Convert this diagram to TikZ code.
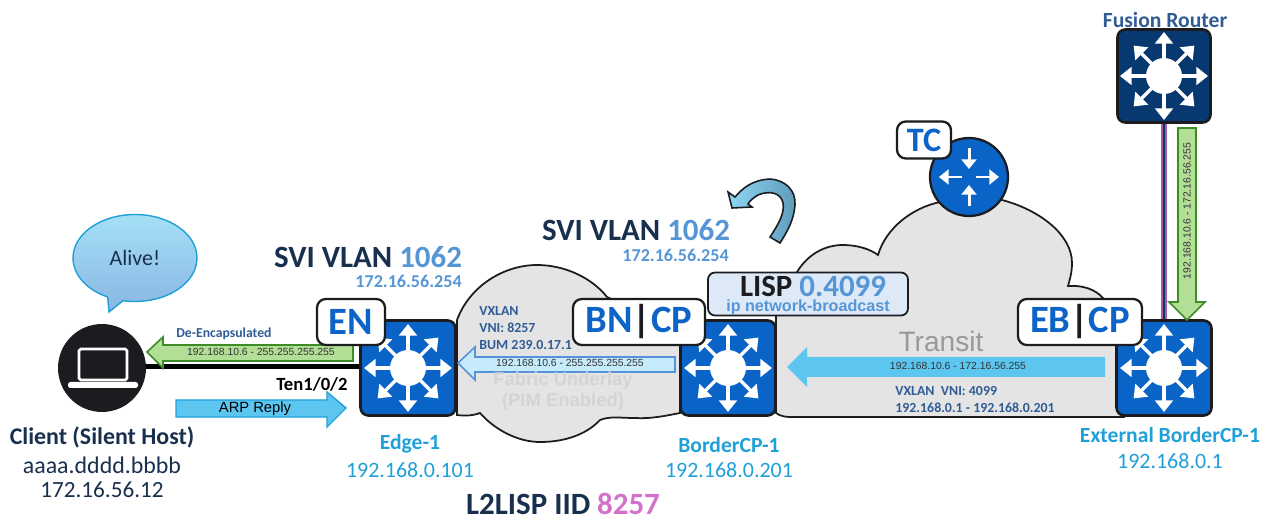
\documentclass[tikz,border=0pt]{standalone}
\usepackage{fontspec}
\setmainfont{Carlito}
\newfontfamily\arialfont{Liberation Sans}
\usepackage{xcolor}
\usetikzlibrary{arrows.meta,positioning,shapes.callouts,shapes.geometric}
\definecolor{ink}{RGB}{28,28,32}
\definecolor{cNavy}{RGB}{24,48,78}
\definecolor{cTag}{RGB}{12,100,200}
\definecolor{cSw}{RGB}{10,100,200}
\definecolor{cFus}{RGB}{8,56,112}
\definecolor{cCyan}{RGB}{32,160,216}
\definecolor{cVlan}{RGB}{86,150,214}
\definecolor{cPink}{RGB}{212,112,204}
\definecolor{cCloud}{RGB}{228,228,228}
\definecolor{cLbl}{RGB}{48,92,150}
\definecolor{cGreen}{RGB}{178,222,150}
\definecolor{cGreenD}{RGB}{62,140,40}
\definecolor{cSky}{RGB}{92,198,240}
\definecolor{cSteel}{RGB}{95,155,185}
\tikzset{
  swnode/.style={draw=ink,line width=1.5pt,rounded corners=4.5pt,fill=#1,inner sep=0pt,
    minimum size=1.9cm,path picture={
      \fill[white] (path picture bounding box.center) circle (18);
      \foreach \a/\l in {0/44,90/44,180/44,270/44,45/43,135/43,225/43,315/43}
        \draw[white,line width=1.9pt,-{Triangle[length=6.6pt,width=10pt]}]
          (path picture bounding box.center) -- ++(\a:\l);}},
  tagbox/.style={draw=ink,line width=1.3pt,rounded corners=5pt,fill=white,inner sep=0pt,
    text=cTag,font=\fontsize{22}{23}\selectfont\bfseries},
  cloudshape/.style={draw=ink,line width=1pt,fill=cCloud},
  greenarrow/.style={draw=cGreenD,line width=.9pt,fill=cGreen},
  skyarrow/.style={draw=cCyan,line width=.8pt,fill=cSky},
  tinytext/.style={font=\arialfont\fontsize{5.9}{7}\selectfont,text=black!80,inner sep=0pt},
  lbl/.style={font=\fontsize{#1}{#1}\selectfont\bfseries,inner sep=0pt,text=cLbl},
  caption/.style={font=\fontsize{12.3}{13}\selectfont\bfseries,inner sep=0pt,text=cCyan},
  addr/.style={font=\fontsize{12.5}{13}\selectfont,inner sep=0pt,text=cCyan},
  head/.style={font=\fontsize{17.6}{18}\selectfont\bfseries,inner sep=0pt,text=cNavy},
  vlanip/.style={font=\fontsize{10.3}{11}\selectfont\bfseries,inner sep=0pt,text=cVlan},
}
\newcommand{\vlan}[1]{\textcolor{cVlan}{#1}}
\newcommand{\tagbar}{\textcolor{ink}{\textbf{|}}}

\begin{document}
\begin{tikzpicture}[x=0.02cm,y=-0.02cm]
  \useasboundingbox (0,0) rectangle (1272,520);
  % clouds
  \path[cloudshape] (457,320) .. controls (470,285) and (505,265) .. (537,265)
     .. controls (565,265) and (592,278) .. (607,297) -- (680,330) -- (680,413)
     .. controls (665,416) and (650,419) .. (635,418)
     .. controls (620,418) and (610,416) .. (600,420)
     .. controls (585,436) and (562,442) .. (540,442)
     .. controls (518,442) and (495,430) .. (480,413)
     .. controls (472,416) and (465,416) .. (457,415) -- cycle;
  \path[cloudshape] (797,272) .. controls (808,254) and (825,245) .. (843,245)
     .. controls (857,245) and (870,249) .. (878,255)
     .. controls (886,228) and (912,208) .. (940,202) -- (1002,200)
     .. controls (1040,210) and (1072,235) .. (1072,263)
     .. controls (1072,272) and (1070,279) .. (1068,286)
     .. controls (1082,285) and (1095,289) .. (1103,298) -- (1120,330) -- (1124,417)
     -- (790,417) .. controls (785,417) and (780,416) .. (776,413) -- (776,300) -- cycle;
  % devices
  \node[circle,fill=ink,minimum size=1.76cm,inner sep=0pt] (client) at (102,368) {};
  \node[swnode=cSw] (edge) at (408,368) {};
  \node[swnode=cSw] (bcp) at (728,368) {};
  \node[swnode=cSw] (ext) at (1164,368) {};
  \node[swnode=cFus,minimum size=1.86cm] (fusion) at (1164,76) {};
  \node[circle,draw=ink,line width=1.3pt,fill=cSw,minimum size=1.56cm,inner sep=0pt] (tc) at (969,177) {};
  \foreach \a/\p/\q in {0/7/30,180/7/30,90/29/8,270/29/8}
    \draw[white,line width=1.7pt,-{Triangle[length=5.5pt,width=8.5pt]}]
      (tc.center) ++(\a:\p) -- ++(\a:\q-\p);
  % laptop
  \draw[white,line width=1.5pt,rounded corners=1pt,fill=ink] (79,349) rectangle (127,380);
  \fill[white,rounded corners=1pt] (68,382) rectangle (138,388);
  % links
  \draw[black,line width=2.8pt] ([yshift=1pt]client.east) -- ([yshift=1pt]edge.west);
  \draw[cPink!80!black,line width=3.4pt] (fusion.south) -- (fusion.south |- ext.north);
  \draw[cFus,line width=1.4pt] (fusion.south) -- (fusion.south |- ext.north);
  % fat arrows
  \path[greenarrow] (147,352) -- (163,337) -- (163,345) -- (353,345) -- (353,361) -- (163,361) -- (163,368) -- cycle;
  \node[tinytext] (decaptxt) at (261,352) {192.168.10.6 - 255.255.255.255};
  \node[lbl=7.8,anchor=west] (decaplbl) at (176,334) {De-Encapsulated};
  \path[skyarrow] (346,408) -- (327,392) -- (327,400) -- (176,400) -- (176,417) -- (327,417) -- (327,427) -- cycle;
  \node[font=\arialfont\fontsize{8.4}{9}\selectfont,inner sep=0pt] (arptxt) at (255,409) {ARP Reply};
  \node[font=\fontsize{10.6}{11}\selectfont\bfseries,inner sep=0pt,anchor=east] (port) at (348,384) {Ten1/0/2};
  \path[draw=cTag!70,line width=.9pt,fill=cSky!35] (458,363) -- (475,347) -- (475,357) -- (675,357) -- (675,372) -- (475,372) -- (475,380) -- cycle;
  \node[tinytext] (bumtxt) at (570,363) {192.168.10.6 - 255.255.255.255};
  \path[fill=cSky] (787,367) -- (807,347) -- (807,357) -- (1105,357) -- (1105,377) -- (807,377) -- (807,387) -- cycle;
  \node[tinytext] (trantxt) at (958,366) {192.168.10.6 - 172.16.56.255};
  \path[greenarrow] (1187,320) -- (1169,302) -- (1178,302) -- (1178,128) -- (1196,128) -- (1196,302) -- (1205,302) -- cycle;
  \node[tinytext,rotate=90] (fustxt) at (1187,211) {192.168.10.6 - 172.16.56.255};
  % tags
  \node[tagbox,minimum width=1.36cm,minimum height=.92cm] (en) at (351,322) {EN};
  \node[tagbox,minimum width=2.64cm,minimum height=.92cm] (bn) at (639,322) {BN\tagbar CP};
  \node[tagbox,minimum width=2.48cm,minimum height=.92cm] (eb) at (1080,322) {EB\tagbar CP};
  \node[tagbox,font=\fontsize{19.5}{20}\selectfont\bfseries,minimum width=1.08cm,minimum height=.74cm] (tctag) at (924,140) {TC};
  \node[draw=ink,line width=1pt,rounded corners=4pt,fill=cTag!14,minimum width=4cm,
    minimum height=.86cm,inner sep=0pt,align=center] (lispbox) at (808,294)
    {\rule{0pt}{13.3pt}\hspace*{5.7pt}{\fontsize{17.6}{10}\selectfont\bfseries\textcolor{ink}{LISP} \vlan{0.4099}}\\[-3.6pt]
     {\arialfont\fontsize{9.2}{6}\selectfont\bfseries\vlan{ip network-broadcast}}};
  % cloud texts
  \node[align=left,anchor=north west,inner sep=0pt,text=cLbl,font=\fontsize{7.9}{9.7}\selectfont\bfseries] (vxlan) at (479,306)
     {VXLAN\\VNI: 8257\\BUM 239.0.17.1};
  \node[font=\arialfont\fontsize{10.5}{12}\selectfont\bfseries,text=black!17,align=center,inner sep=0pt] (under) at (563,391)
     {Fabric Underlay\\(PIM Enabled)};
  \node[font=\arialfont\fontsize{16}{17}\selectfont,text=black!40,inner sep=0pt] (transit) at (941,341) {Transit};
  \node[align=left,anchor=north west,inner sep=0pt,text=cLbl,font=\fontsize{7.9}{9.7}\selectfont\bfseries] (vni) at (895,386)
     {VXLAN\ \ VNI: 4099\\192.168.0.1 - 192.168.0.201};
  % callout
  \node[ellipse callout,callout absolute pointer={(109,312)},draw=cCyan,line width=.8pt,
    top color=cSky!55!white,bottom color=cVlan!70!white,minimum width=2.48cm,minimum height=1.74cm,inner sep=0pt,
    font=\fontsize{12.5}{13}\selectfont,text=cNavy] (alive) at (135,258) {Alive!};
  % captions
  \node[font=\fontsize{13.6}{14}\selectfont\bfseries,text=cNavy,inner sep=0pt] (clname) at (102,437) {Client (Silent Host)};
  \node[font=\fontsize{13.6}{14}\selectfont,text=cNavy,inner sep=0pt] (clmac) at (102,465) {aaaa.dddd.bbbb};
  \node[font=\fontsize{13.2}{14}\selectfont,text=cNavy,inner sep=0pt] (clip) at (102,490) {172.16.56.12};
  \node[caption] (edgename) at (410,444) {Edge-1};
  \node[addr] (edgeip) at (410,470) {192.168.0.101};
  \node[caption] (bcpname) at (729,445) {BorderCP-1};
  \node[addr] (bcpip) at (729,470) {192.168.0.201};
  \node[caption] (extname) at (1170,435) {External BorderCP-1};
  \node[addr] (extip) at (1170,461) {192.168.0.1};
  \node[lbl=12.3] (fusname) at (1165,20) {Fusion Router};
  \node[head] (svia) at (368,257) {SVI VLAN \vlan{1062}};
  \node[vlanip,anchor=east] (svaip) at (462,281) {172.16.56.254};
  \node[head] (svib) at (636,230) {SVI VLAN \vlan{1062}};
  \node[vlanip,anchor=east] (svbip) at (729,255) {172.16.56.254};
  \node[head] (iid) at (563,504) {L2LISP IID \textcolor{cPink}{8257}};
  % turn arrow
  \path[draw=ink,line width=.9pt,left color=cSky!70!white,right color=cSteel] (770,237)
     .. controls (778,225) and (785,213) .. (783,203)
     .. controls (781,193) and (770,190) .. (758,195)
     .. controls (755,197) and (750,200) .. (748,204) -- (752,207) -- (732,208) -- (728,192) -- (735,197)
     .. controls (743,188) and (752,180) .. (770,179)
     .. controls (785,180) and (796,190) .. (795,205)
     .. controls (794,220) and (787,232) .. (780,243) -- cycle;
\end{tikzpicture}
\end{document}
